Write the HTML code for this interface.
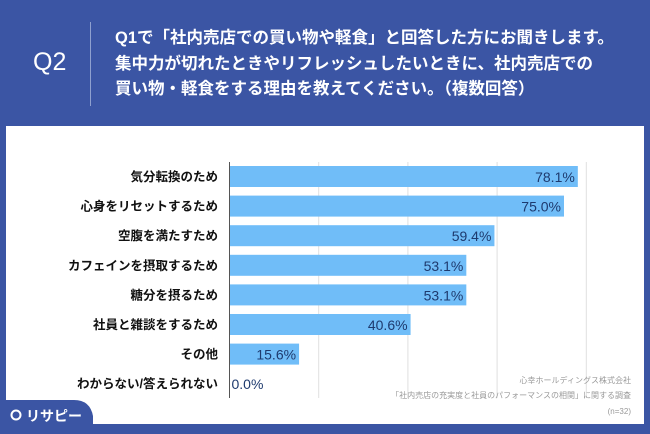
<!DOCTYPE html>
<html><head><meta charset="utf-8"><style>
body{margin:0;width:650px;height:434px;overflow:hidden;background:#3b55a4;font-family:"Liberation Sans","Noto Sans CJK JP",sans-serif;}
#wrap{position:relative;width:650px;height:434px;}
.q2{position:absolute;left:33px;top:48px;color:#fff;font-size:25px;}
.sep{position:absolute;left:90px;top:22px;width:1px;height:84px;background:#8fa0cf;}
.qt{position:absolute;left:115px;top:26px;color:#fff;font-size:16.5px;line-height:25.5px;font-weight:bold;white-space:nowrap;}
.panel{position:absolute;left:6px;top:126px;width:638px;height:298px;background:#fff;}
</style></head><body><div id="wrap">
<div class="q2">Q2</div>
<div class="sep"></div>
<div class="qt">Q1で「社内売店での買い物や軽食」と回答した方にお聞きします。<br>集中力が切れたときやリフレッシュしたいときに、社内売店での<br>買い物・軽食をする理由を教えてください。（複数回答）</div>
<div class="panel"></div>
<svg id="chart" width="650" height="434" style="position:absolute;left:0;top:0"></svg>
</div>
<script>
const categories=["気分転換のため","心身をリセットするため","空腹を満たすため","カフェインを摂取するため","糖分を摂るため","社員と雑談をするため","その他","わからない/答えられない"];
const values=[78.1,75.0,59.4,53.1,53.1,40.6,15.6,0.0];
const gridTicks=[20,40,60,80];
const ns="http://www.w3.org/2000/svg";
const svg=document.getElementById('chart');
const x0=229.5,k=4.46,y0=166,step=29.6,bh=21;
const xs=v=>x0+v*k;
function mk(t,a){const e=document.createElementNS(ns,t);for(const n in a)e.setAttribute(n,a[n]);svg.appendChild(e);return e;}
gridTicks.forEach(t=>{const g=mk('line',{x1:xs(t),x2:xs(t),y1:162,y2:398,stroke:'#e0e0e0','stroke-width':1});

});
categories.forEach((c,i)=>{
 const y=y0+i*step;
 const b=mk('rect',{x:x0,y:y,width:values[i]*k,height:bh,fill:'#70bdf8'});
 
 
 const l=mk('text',{x:218,y:y+15,'text-anchor':'end','font-size':12.5,'font-weight':'bold',fill:'#111'});l.textContent=c;
 
 
 const inside=values[i]>10;
 const v=mk('text',{x:inside?xs(values[i])-3:x0+2,y:y+16,'text-anchor':inside?'end':'start','font-size':14,fill:'#1e3a6e'});v.textContent=values[i].toFixed(1)+'%';
 
 
});
const ax=mk('line',{x1:x0,x2:x0,y1:162,y2:398,stroke:'#555','stroke-width':1});


[["心幸ホールディングス株式会社",383],["「社内売店の充実度と社員のパフォーマンスの相関」に関する調査",398],["(n=32)",414]].forEach(s=>{
 const t=mk('text',{x:631,y:s[1],'text-anchor':'end','font-size':8,fill:'#999'});t.textContent=s[0];
 
 });
const tab=mk('path',{d:'M0 434 L0 400 L74 400 Q90 400 93 416 L93 434 Z',fill:'#3b55a4'});


const bot=mk('rect',{x:0,y:425,width:650,height:9,fill:'#3b55a4'});


const lc=mk('circle',{cx:16,cy:415,r:4.5,fill:'none',stroke:'#fff','stroke-width':2});


const lt=mk('text',{x:26,y:421,'font-size':14,fill:'#fff','font-weight':'bold'});lt.textContent='リサピー';


</script></body></html>
